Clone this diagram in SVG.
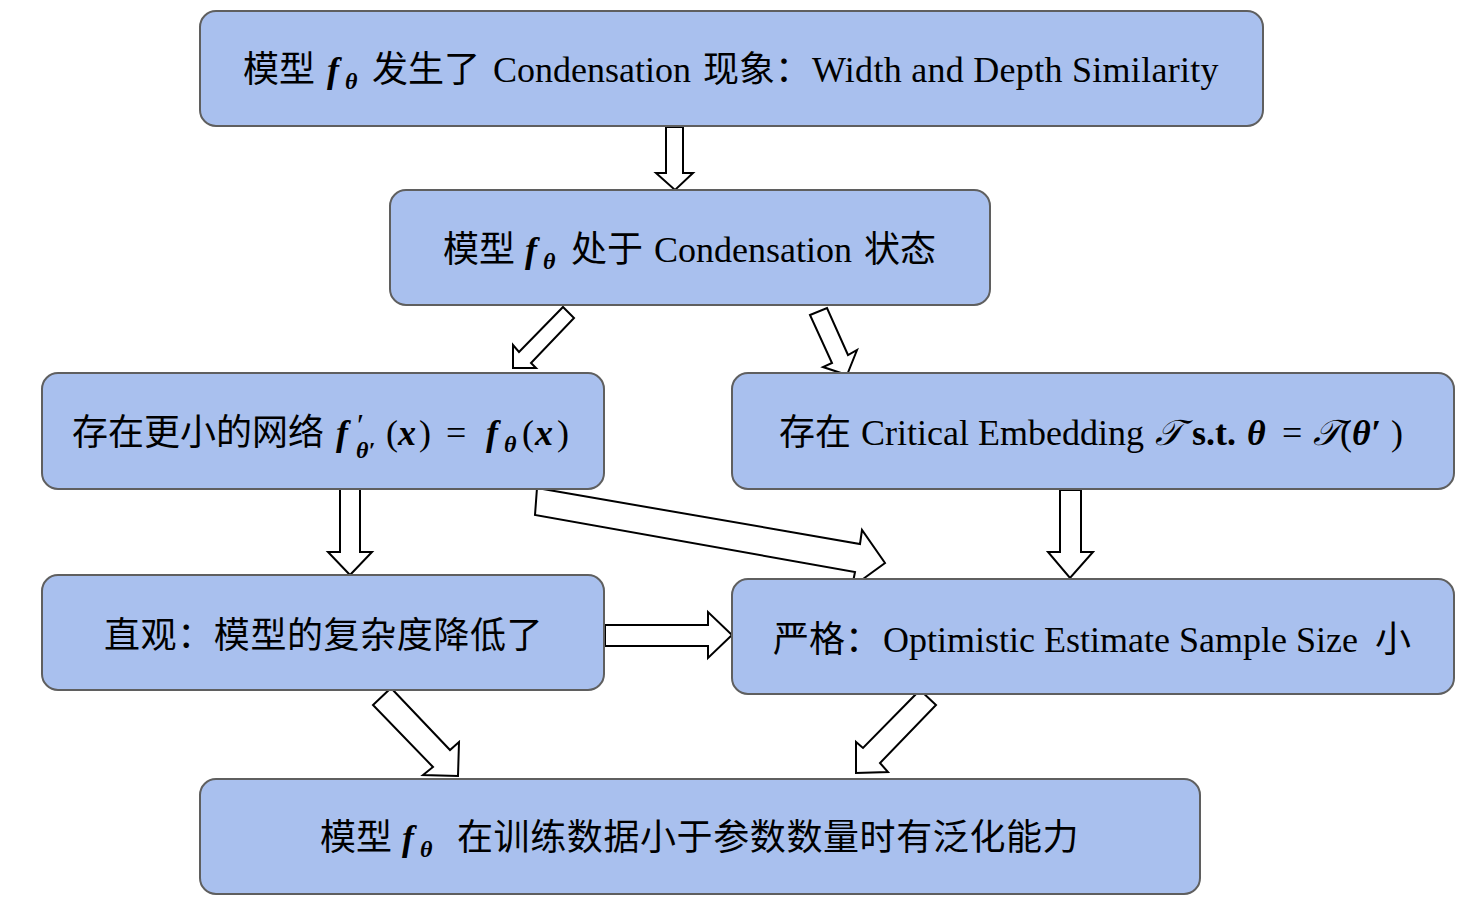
<svg xmlns="http://www.w3.org/2000/svg" width="1482" height="912" viewBox="0 0 1482 912">
<style>
.box{fill:#a9c0ee;stroke:#5f5f5f;stroke-width:2}
.arr{fill:#ffffff;stroke:#000000;stroke-width:2;stroke-linejoin:miter}
text{font-family:"Liberation Serif","Noto Sans CJK SC",serif;font-size:36px;fill:#000}
.cj{font-family:"Noto Sans CJK SC","Liberation Sans",sans-serif}
.m{font-family:"Liberation Serif",serif;font-weight:bold;font-style:italic}
.s{font-size:24px}
.sc{font-family:"DejaVu Serif","DejaVu Sans","Noto Sans",serif;font-style:italic}
</style>
<rect width="1482" height="912" fill="#ffffff"/>
<g id="connectors">
<polygon class="arr" points="666,127 683,127 683,173 693,173 675,190 656,173 666,173"/>
<polygon class="arr" points="563,307 574,318 531,363 536,368 513,368 513,345 519,352"/>
<polygon class="arr" points="810,315 827,308 848,355 857,350 847,375 823,367 832,363"/>
<polygon class="arr" points="340,489 360,489 360,552 372,552 350,575 328,552 340,552"/>
<polygon class="arr" points="1060,490 1081,490 1081,552 1093,552 1070,578 1048,552 1060,552"/>
<polygon class="arr" points="537,488 860,544 862,530 885,563 852,587 855,572 535,515"/>
<polygon class="arr" points="605,625 708,625 708,612 732,635 708,658 708,646 605,646"/>
<polygon class="arr" points="391,688 450,750 459,742 458,776 423,775 433,767 373,705"/>
<polygon class="arr" points="920,690 936,705 880,763 888,772 856,773 856,742 863,748"/>
</g>
<g id="n1">
<rect class="box" x="200" y="11" width="1063" height="115" rx="16"/>
<text y="82"><tspan class="cj" x="243">模型</tspan><tspan class="m" x="327">f</tspan><tspan class="cj" x="372">发生了</tspan><tspan x="493">Condensation</tspan><tspan class="cj" x="703">现象：</tspan><tspan x="812" letter-spacing="0.28">Width and Depth Similarity</tspan></text>
<text class="m s" x="345" y="89">θ</text>
</g>
<g id="n2">
<rect class="box" x="390" y="190" width="600" height="115" rx="16"/>
<text y="262"><tspan class="cj" x="443">模型</tspan><tspan class="m" x="525">f</tspan><tspan class="cj" x="571">处于</tspan><tspan x="654">Condensation</tspan><tspan class="cj" x="864">状态</tspan></text>
<text class="m s" x="543" y="269">θ</text>
</g>
<g id="n3">
<rect class="box" x="42" y="373" width="562" height="116" rx="16"/>
<text class="cj" x="72" y="445">存在更小的网络</text>
<text class="m" x="336" y="445">f</text>
<text><tspan x="357" y="436" font-size="32">′</tspan><tspan class="m s" x="356" y="458">θ′</tspan></text>
<text x="386" y="445">(</text>
<text class="m" x="398" y="445">x</text>
<text x="419" y="445">)</text>
<text x="446" y="445">=</text>
<text class="m" x="486" y="445">f</text>
<text class="m s" x="504" y="452">θ</text>
<text x="522" y="445">(</text>
<text class="m" x="535" y="445">x</text>
<text x="557" y="445">)</text>
</g>
<g id="n4">
<rect class="box" x="732" y="373" width="722" height="116" rx="16"/>
<text y="445"><tspan class="cj" x="779">存在</tspan><tspan x="861">Critical Embedding</tspan></text>
<text class="sc" x="1155" y="445">𝒯</text>
<text x="1192" y="445" font-weight="bold">s.t.</text>
<text class="m" x="1247" y="445">θ</text>
<text x="1282" y="445">=</text>
<text class="sc" x="1313" y="445">𝒯</text>
<text x="1340" y="445">(</text>
<text class="m" x="1352" y="445">θ′</text>
<text x="1391" y="445">)</text>
</g>
<g id="n5">
<rect class="box" x="42" y="575" width="562" height="115" rx="16"/>
<text class="cj" x="104" y="648" letter-spacing="0.6">直观：模型的复杂度降低了</text>
</g>
<g id="n6">
<rect class="box" x="732" y="579" width="722" height="115" rx="16"/>
<text y="652"><tspan class="cj" x="773">严格：</tspan><tspan x="883">Optimistic Estimate Sample Size</tspan><tspan class="cj" x="1375">小</tspan></text>
</g>
<g id="n7">
<rect class="box" x="200" y="779" width="1000" height="115" rx="16"/>
<text y="850"><tspan class="cj" x="320">模型</tspan><tspan class="m" x="402">f</tspan><tspan class="cj" x="457" letter-spacing="0.6">在训练数据小于参数数量时有泛化能力</tspan></text>
<text class="m s" x="420" y="857">θ</text>
</g>
</svg>
